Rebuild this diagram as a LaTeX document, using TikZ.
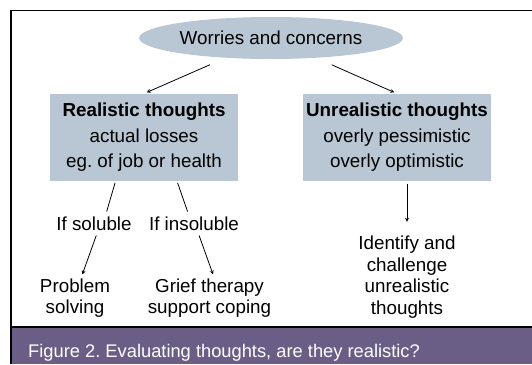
\documentclass[tikz,border=0pt]{standalone}
\usepackage{fontspec}
\setmainfont{Liberation Sans}
\usetikzlibrary{arrows,positioning,shapes}

\definecolor{boxblue}{RGB}{185,198,211}
\definecolor{capviolet}{RGB}{106,94,134}

\begin{document}
\begin{tikzpicture}[x=1pt,y=-1pt,
    every node/.style={font=\fontsize{18.8}{21.5}\selectfont, inner sep=2pt},
    thoughts/.style={fill=boxblue, minimum width=188pt, minimum height=87pt, inner sep=0pt, align=center, font=\fontsize{18.8}{25.5}\selectfont},
    txt/.style={align=center},
    arr/.style={->, >=stealth, line width=0.8pt}]
        \useasboundingbox (0,0) rectangle (532,364);
        % frame and caption band
        \fill[capviolet] (11,327) rectangle (532,364);
        \draw[line width=1.5pt] (11,364) -- (11,10.5) -- (532,10.5);
        \draw[line width=1.5pt] (11,327) -- (532,327);

        \node[ellipse, fill=boxblue, minimum width=212pt, minimum height=42pt] (worry) at (271,38) {Worries and concerns};
        \node[thoughts] (real) at (144,137.3) {\textbf{Realistic thoughts}\\actual losses\\eg.\ of job or health};
        \node[thoughts] (unreal) at (397,137.3) {\textbf{Unrealistic thoughts}\\overly pessimistic\\overly optimistic};

        \node[txt] (soluble) at (94,224) {If soluble};
        \node[txt] (insoluble) at (194,224) {If insoluble};
        \node[txt] (problem) at (75,298) {Problem\\solving};
        \node[txt] (grief) at (209.5,298) {Grief therapy\\support coping};
        \node[txt] (identify) at (407,277) {Identify and\\challenge\\unrealistic\\thoughts};

        \node[anchor=base west, text=white, inner sep=0pt, font=\fontsize{18.3}{21}\selectfont] (caption) at (28,357) {Figure 2.\ Evaluating thoughts, are they realistic?};

        \draw[arr, shorten <=17pt, shorten >=3pt] (worry) -- (real.north);
        \draw[arr, shorten <=17pt, shorten >=3pt] (worry) -- (unreal.north);
        \draw[line width=0.8pt, shorten <=2pt, shorten >=3.5pt] (real.237) -- (soluble.38);
        \draw[line width=0.8pt, shorten <=2pt, shorten >=3.5pt] (real.307) -- (insoluble.120);
        \draw[arr, shorten <=2.5pt, shorten >=2pt] (soluble.289) -- (problem.73);
        \draw[arr, shorten <=2.5pt, shorten >=2pt] (insoluble.295) -- (grief.79);
        \draw[arr, shorten <=2.5pt, shorten >=12pt] (unreal.south -| identify.north) -- (identify.north);
      \end{tikzpicture}
\end{document}
